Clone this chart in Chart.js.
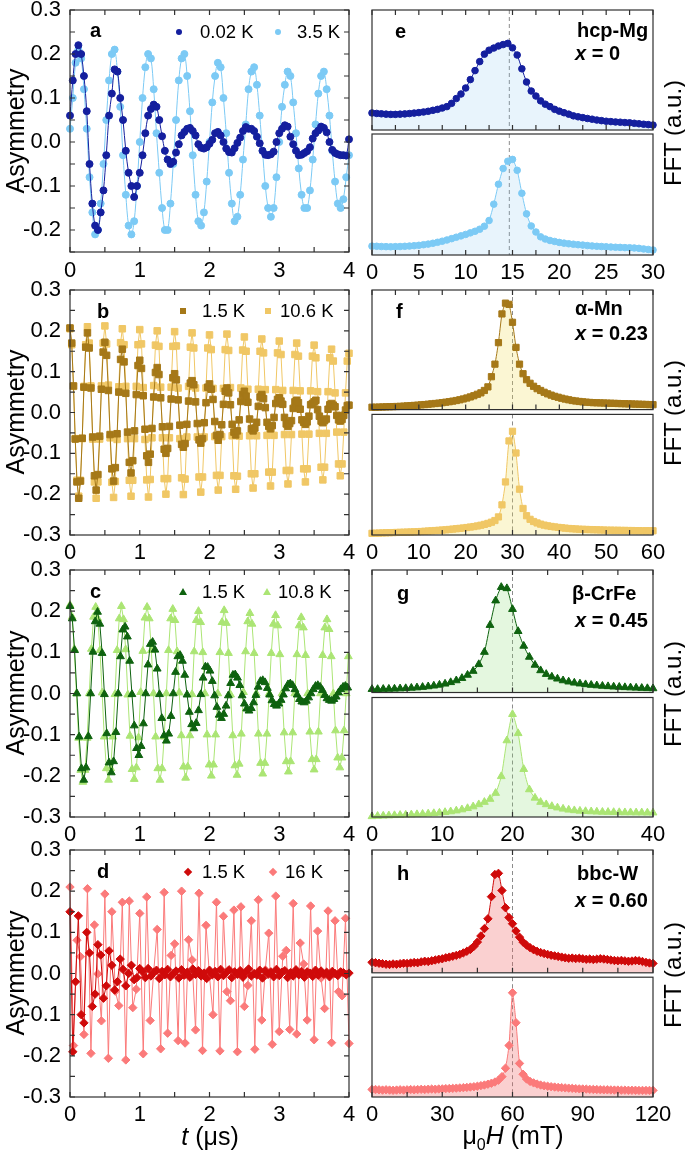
<!DOCTYPE html>
<html>
<head>
<meta charset="utf-8">
<script src="https://cdn.jsdelivr.net/npm/chart.js@4.4.1/dist/chart.umd.min.js"></script>
<style>
  body { margin: 0; background: #fff; width: 685px; height: 1157px; position: relative; overflow: hidden;
         font-family: "Liberation Sans", Arial, Helvetica, sans-serif; }
  .box { position: absolute; }
  .box canvas { display: block; }
  .t { position: absolute; white-space: nowrap; color: #000; line-height: 1; }
  .leg { font-size: 18.5px; }
  .let { font-size: 20px; font-weight: bold; }
  .mat { font-size: 20px; font-weight: bold; }
  .rot { transform: translate(-50%, -50%) rotate(-90deg); }
  .ctr { transform: translate(-50%, -50%); }
  .mk { position: absolute; }
</style>
</head>
<body>

<div class="box" style="left:0;top:0"><canvas id="cA" width="360" height="290"></canvas></div>
<div class="box" style="left:0;top:280px"><canvas id="cB" width="360" height="290"></canvas></div>
<div class="box" style="left:0;top:560px"><canvas id="cC" width="360" height="290"></canvas></div>
<div class="box" style="left:0;top:840px"><canvas id="cD" width="360" height="317"></canvas></div>

<div class="box" style="left:355px;top:0"><canvas id="cE1" width="330" height="135"></canvas></div>
<div class="box" style="left:355px;top:129px"><canvas id="cE2" width="330" height="161"></canvas></div>
<div class="box" style="left:355px;top:280px"><canvas id="cF1" width="330" height="135"></canvas></div>
<div class="box" style="left:355px;top:409px"><canvas id="cF2" width="330" height="161"></canvas></div>
<div class="box" style="left:355px;top:560px"><canvas id="cG1" width="330" height="138"></canvas></div>
<div class="box" style="left:355px;top:692px"><canvas id="cG2" width="330" height="158"></canvas></div>
<div class="box" style="left:355px;top:840px"><canvas id="cH1" width="330" height="138"></canvas></div>
<div class="box" style="left:355px;top:972px"><canvas id="cH2" width="330" height="185"></canvas></div>

<!-- axis titles -->
<div class="t rot" style="left:15px;top:131px;font-size:25px">Asymmetry</div>
<div class="t rot" style="left:15px;top:412px;font-size:25px">Asymmetry</div>
<div class="t rot" style="left:15px;top:693px;font-size:25px">Asymmetry</div>
<div class="t rot" style="left:15px;top:973px;font-size:25px">Asymmetry</div>
<div class="t rot" style="left:673px;top:133px;font-size:24px">FFT (a.u.)</div>
<div class="t rot" style="left:673px;top:413px;font-size:24px">FFT (a.u.)</div>
<div class="t rot" style="left:673px;top:694px;font-size:24px">FFT (a.u.)</div>
<div class="t rot" style="left:673px;top:975px;font-size:24px">FFT (a.u.)</div>
<div class="t ctr" style="left:210px;top:1136px;font-size:25px"><i>t</i> (μs)</div>
<div class="t ctr" style="left:513px;top:1138px;font-size:25px">μ<sub style="font-size:16px">0</sub><i>H</i> (mT)</div>

<!-- panel letters -->
<div class="t let" style="left:90px;top:20px">a</div>
<div class="t let" style="left:97px;top:301px">b</div>
<div class="t let" style="left:90px;top:581px">c</div>
<div class="t let" style="left:97px;top:861px">d</div>
<div class="t let" style="left:395px;top:21px">e</div>
<div class="t let" style="left:396px;top:301px">f</div>
<div class="t let" style="left:397px;top:583px">g</div>
<div class="t let" style="left:397px;top:863px">h</div>

<!-- material labels -->
<div class="t mat" style="left:577px;top:20px">hcp-Mg</div>
<div class="t mat" style="left:575px;top:43px"><i>x</i> = 0</div>
<div class="t mat" style="left:575px;top:298px">α-Mn</div>
<div class="t mat" style="left:575px;top:323px"><i>x</i> = 0.23</div>
<div class="t mat" style="left:572px;top:583px">β-CrFe</div>
<div class="t mat" style="left:575px;top:610px"><i>x</i> = 0.45</div>
<div class="t mat" style="left:577px;top:863px">bbc-W</div>
<div class="t mat" style="left:575px;top:890px"><i>x</i> = 0.60</div>

<!-- legends -->
<span class="mk" style="left:176px;top:29px;width:6px;height:6px;border-radius:50%;background:#141f9e"></span>
<div class="t leg" style="left:200px;top:23px">0.02 K</div>
<span class="mk" style="left:275px;top:29px;width:6px;height:6px;border-radius:50%;background:#7ccaf5"></span>
<div class="t leg" style="left:297px;top:23px">3.5 K</div>

<span class="mk" style="left:180px;top:308px;width:6px;height:6px;background:#a57818"></span>
<div class="t leg" style="left:202px;top:302px">1.5 K</div>
<span class="mk" style="left:265px;top:308px;width:6px;height:6px;background:#f0c765"></span>
<div class="t leg" style="left:280px;top:302px">10.6 K</div>

<span class="mk" style="left:179px;top:588px;width:8px;height:7px;background:#0e620f;clip-path:polygon(50% 0,100% 100%,0 100%)"></span>
<div class="t leg" style="left:202px;top:583px">1.5 K</div>
<span class="mk" style="left:263px;top:588px;width:8px;height:7px;background:#abe574;clip-path:polygon(50% 0,100% 100%,0 100%)"></span>
<div class="t leg" style="left:278px;top:583px">10.8 K</div>

<span class="mk" style="left:185px;top:869px;width:6px;height:6px;background:#cf0a0a;transform:rotate(45deg)"></span>
<div class="t leg" style="left:202px;top:863px">1.5 K</div>
<span class="mk" style="left:270px;top:869px;width:6px;height:6px;background:#fb7a7a;transform:rotate(45deg)"></span>
<div class="t leg" style="left:285px;top:863px">16 K</div>

<script>
// sample grids (evenly binned time / field)
function steps(start, step, count) {
  const out = [];
  for (let i = 0; i < count; i++) out.push(+(start + i * step).toFixed(4));
  return out;
}

// ---- tick labels ----
const timeTicks = [0, 1, 2, 3, 4];
const timeMinor = [0.5, 1.5, 2.5, 3.5];
const asymTicks = [-0.3, -0.2, -0.1, 0, 0.1, 0.2, 0.3];
const asymMinor = [-0.25, -0.15, -0.05, 0.05, 0.15, 0.25];
const fieldTicksE = [0, 5, 10, 15, 20, 25, 30];
const fieldMinorE = [2.5, 7.5, 12.5, 17.5, 22.5, 27.5];
const fieldTicksF = [0, 10, 20, 30, 40, 50, 60];
const fieldMinorF = [5, 15, 25, 35, 45, 55];
const fieldTicksG = [0, 10, 20, 30, 40];
const fieldMinorG = [5, 15, 25, 35];
const fieldTicksH = [0, 30, 60, 90, 120];
const fieldMinorH = [15, 45, 75, 105];
const refFields = [14.66, 30, 20, 60];

// ---- panel a : hcp-Mg ----
const timeA = steps(0, 0.04, 101);
const asymA_002K = [
  0.06, 0.14, 0.20, 0.22, 0.20, 0.15, 0.07, -0.05, -0.14, -0.19,
  -0.20, -0.16, -0.11, -0.03, 0.06, 0.11, 0.165, 0.16, 0.10, 0.05,
  -0.02, -0.07, -0.10, -0.125, -0.10, -0.07, -0.03, 0.02, 0.06, 0.075,
  0.085, 0.08, 0.05, 0.013, -0.02, -0.04, -0.05, -0.045, -0.024, -0.005,
  0.015, 0.023, 0.03, 0.032, 0.025, 0.015, -0.005, -0.013, -0.015, -0.012,
  -0.004, 0.005, 0.02, 0.023, 0.015, 0.0, -0.015, -0.023, -0.024, -0.014,
  -0.002, 0.01, 0.025, 0.034, 0.03, 0.03, 0.025, 0.012, -0.003, -0.02,
  -0.029, -0.03, -0.028, -0.022, 0.0, 0.02, 0.03, 0.038, 0.035, 0.012,
  -0.005, -0.02, -0.03, -0.029, -0.025, -0.021, -0.012, 0.008, 0.02, 0.026,
  0.035, 0.032, 0.022, 0.0, -0.018, -0.025, -0.028, -0.03, -0.03, -0.031,
  0.006
];
const asymA_35K = [
  0.03, 0.10, 0.18, 0.21, 0.19, 0.12, 0.03, -0.08, -0.16, -0.21, -0.20, -0.14, -0.05,
  0.05, 0.14, 0.20, 0.21, 0.16, 0.08, -0.03, -0.12, -0.19, -0.21, -0.18, -0.10,
  0.00, 0.10, 0.17, 0.20, 0.19, 0.12, 0.02, -0.07, -0.15, -0.20, -0.20, -0.14, -0.05,
  0.05, 0.14, 0.19, 0.20, 0.15, 0.07, -0.03, -0.12, -0.18, -0.19, -0.16, -0.09,
  0.00, 0.09, 0.15, 0.18, 0.17, 0.10, 0.02, -0.07, -0.14, -0.18, -0.17, -0.12, -0.04,
  0.04, 0.12, 0.16, 0.17, 0.13, 0.06, -0.02, -0.10, -0.15, -0.17, -0.15, -0.08,
  0.00, 0.08, 0.13, 0.16, 0.15, 0.09, 0.02, -0.06, -0.12, -0.15, -0.15, -0.11, -0.04,
  0.04, 0.11, 0.15, 0.16, 0.12, 0.06, -0.02, -0.09, -0.14, -0.15, -0.13, -0.08,
  -0.03
];

// ---- panel b : alpha-Mn ----
const timeB = steps(0, 0.025, 161);
const asymB_15K = [
  0.207, 0.170, 0.065, -0.065, -0.170, -0.210, -0.168, -0.063, 0.062, 0.160,
  0.195, 0.158, 0.060, -0.060, -0.155, -0.190, -0.152, -0.058, 0.057, 0.148,
  0.172, 0.140, 0.054, -0.054, -0.138, -0.168, -0.135, -0.052, 0.050, 0.130,
  0.155, 0.124, 0.047, -0.048, -0.122, -0.148, -0.118, -0.045, 0.044, 0.115,
  0.128, 0.108, 0.041, -0.041, -0.106, -0.122, -0.102, -0.039, 0.038, 0.098,
  0.110, 0.093, 0.036, -0.035, -0.090, -0.100, -0.088, -0.034, 0.033, 0.085,
  0.095, 0.080, 0.031, -0.031, -0.078, -0.085, -0.076, -0.029, 0.028, 0.072,
  0.078, 0.068, 0.026, -0.027, -0.067, -0.075, -0.064, -0.025, 0.024, 0.062,
  0.070, 0.057, 0.032, -0.022, -0.056, -0.068, -0.054, -0.030, 0.020, 0.052,
  0.060, 0.048, 0.019, -0.029, -0.048, -0.055, -0.045, -0.018, 0.027, 0.044,
  0.052, 0.040, 0.025, -0.016, -0.040, -0.045, -0.038, -0.024, 0.015, 0.038,
  0.044, 0.034, 0.012, -0.024, -0.034, -0.040, -0.032, -0.012, 0.022, 0.032,
  0.036, 0.028, 0.020, -0.012, -0.028, -0.034, -0.027, -0.020, 0.010, 0.026,
  0.030, 0.024, 0.008, -0.018, -0.024, -0.029, -0.023, -0.009, 0.019, 0.022,
  0.026, 0.030, 0.007, -0.009, -0.021, -0.025, -0.020, -0.016, 0.008, 0.019,
  0.022, 0.018, 0.014, -0.007, -0.018, -0.021, -0.017, -0.007, 0.006, 0.017,
  0.018
];
const asymB_106K = [
  0.205, 0.166, 0.064, -0.064, -0.166, -0.205, -0.166, -0.064, 0.064, 0.166,
  0.210, 0.170, 0.065, -0.065, -0.170, -0.210, -0.170, -0.065, 0.065, 0.170,
  0.212, 0.168, 0.067, -0.062, -0.171, -0.208, -0.169, -0.066, 0.063, 0.171,
  0.205, 0.166, 0.064, -0.064, -0.166, -0.205, -0.166, -0.064, 0.064, 0.166,
  0.203, 0.168, 0.061, -0.066, -0.165, -0.207, -0.164, -0.062, 0.066, 0.165,
  0.200, 0.162, 0.062, -0.062, -0.162, -0.200, -0.162, -0.062, 0.062, 0.162,
  0.198, 0.163, 0.060, -0.064, -0.160, -0.201, -0.163, -0.060, 0.064, 0.160,
  0.195, 0.158, 0.060, -0.060, -0.158, -0.195, -0.158, -0.060, 0.060, 0.158,
  0.190, 0.154, 0.059, -0.059, -0.154, -0.190, -0.154, -0.059, 0.059, 0.154,
  0.192, 0.152, 0.061, -0.057, -0.155, -0.188, -0.156, -0.058, 0.060, 0.153,
  0.185, 0.150, 0.057, -0.057, -0.150, -0.185, -0.150, -0.057, 0.057, 0.150,
  0.180, 0.146, 0.056, -0.056, -0.146, -0.180, -0.146, -0.056, 0.056, 0.146,
  0.175, 0.142, 0.054, -0.054, -0.142, -0.175, -0.142, -0.054, 0.054, 0.142,
  0.170, 0.138, 0.053, -0.053, -0.138, -0.170, -0.138, -0.053, 0.053, 0.138,
  0.165, 0.134, 0.051, -0.051, -0.134, -0.165, -0.134, -0.051, 0.051, 0.134,
  0.155, 0.126, 0.048, -0.048, -0.126, -0.155, -0.126, -0.048, 0.048, 0.126,
  0.145
];

// ---- panel c : beta-CrFe ----
const timeC_15K = steps(0, 0.0329, 122);
const asymC_15K = [
  0.212, 0.182, 0.105, 0.0, -0.105, -0.182, -0.210, -0.180, -0.104, 0.0, 0.101, 0.175,
  0.198, 0.169, 0.098, -0.002, -0.097, -0.168, -0.192, -0.165, -0.094, 0.0, 0.090, 0.155,
  0.162, 0.138, 0.079, -0.002, -0.078, -0.133, -0.150, -0.128, -0.073, 0.0, 0.070, 0.120,
  0.125, 0.106, 0.060, -0.002, -0.060, -0.102, -0.115, -0.098, -0.055, 0.0, 0.052, 0.090,
  0.093, 0.079, 0.045, -0.003, -0.045, -0.075, -0.085, -0.072, -0.041, -0.002, 0.038, 0.065,
  0.064, 0.055, 0.030, -0.005, -0.033, -0.052, -0.060, -0.050, -0.030, -0.005, 0.025, 0.045,
  0.046, 0.038, 0.020, -0.005, -0.025, -0.037, -0.042, -0.036, -0.022, -0.004, 0.016, 0.030,
  0.032, 0.027, 0.013, -0.003, -0.017, -0.026, -0.030, -0.025, -0.016, -0.003, 0.012, 0.022,
  0.024, 0.020, 0.010, -0.003, -0.014, -0.020, -0.022, -0.018, -0.010, 0.000, 0.010, 0.018,
  0.020, 0.016, 0.008, -0.004, -0.012, -0.016, -0.018, -0.014, -0.008, 0.002, 0.010, 0.016,
  0.018, 0.014
];
const timeC_108K = steps(0, 0.0307, 131);
const asymC_108K = [
  0.215, 0.186, 0.108, 0.0, -0.108, -0.186, -0.215, -0.186, -0.108, 0.0, 0.108, 0.186,
  0.210, 0.182, 0.105, 0.002, -0.105, -0.182, -0.210, -0.182, -0.105, -0.002, 0.105, 0.182,
  0.212, 0.180, 0.107, -0.003, -0.103, -0.184, -0.208, -0.180, -0.107, 0.003, 0.103, 0.184,
  0.210, 0.182, 0.105, 0.0, -0.105, -0.182, -0.210, -0.182, -0.105, 0.0, 0.105, 0.182,
  0.205, 0.178, 0.102, 0.002, -0.102, -0.178, -0.205, -0.178, -0.102, -0.002, 0.102, 0.178,
  0.200, 0.173, 0.100, 0.0, -0.100, -0.173, -0.200, -0.173, -0.100, 0.0, 0.100, 0.173,
  0.202, 0.171, 0.098, -0.003, -0.102, -0.175, -0.198, -0.171, -0.098, 0.003, 0.102, 0.175,
  0.195, 0.169, 0.098, 0.0, -0.098, -0.169, -0.195, -0.169, -0.098, 0.0, 0.098, 0.169,
  0.190, 0.165, 0.095, 0.0, -0.095, -0.165, -0.190, -0.165, -0.095, 0.0, 0.095, 0.165,
  0.185, 0.160, 0.093, 0.0, -0.093, -0.160, -0.185, -0.160, -0.093, 0.0, 0.093, 0.160,
  0.180, 0.156, 0.090, 0.0, -0.090, -0.156, -0.180, -0.156, -0.090, 0.0, 0.090
];

// ---- panel d : bbc-W ----
const timeD_15K = steps(0, 0.04, 101);
const asymD_15K = [
  0.15, -0.19, -0.02, 0.14, -0.10, -0.12, 0.10, 0.05, -0.08, -0.05,
  0.07, 0.045, -0.06, -0.03, 0.055, 0.02, -0.04, -0.02, 0.035, 0.01,
  -0.03, 0.0, 0.02, -0.015, -0.01, 0.012,
  0.004, -0.010, 0.012, -0.006, 0.002, 0.008, -0.012, 0.005, -0.003, 0.010,
  -0.008, 0.000, 0.006, -0.011, 0.009, -0.004, 0.003, -0.009, 0.011, -0.002,
  0.007, -0.006, 0.001, -0.012, 0.008, -0.003, 0.005, -0.008, 0.010, -0.005,
  0.002, 0.009, -0.010, 0.004, -0.002, 0.007, -0.009, 0.003, 0.011, -0.006,
  0.000, -0.004, 0.008, -0.011, 0.006, -0.002, 0.004, -0.008, 0.010, -0.005,
  0.003, 0.007, -0.010, 0.002, -0.006, 0.009, -0.003, 0.005, -0.009, 0.004,
  0.001, -0.007, 0.008, -0.004, 0.006, -0.002, 0.003, -0.008, 0.005, 0.000,
  -0.005, 0.004, 0.002, -0.003, 0.001
];
const timeD_16K = steps(0, 0.05, 81);
const asymD_16K = [
  0.210, -0.175, 0.081, 0.041, -0.148, 0.206, -0.194, 0.118, -0.001, -0.115,
  0.193, -0.206, 0.150, -0.043, -0.078, 0.173, -0.210, 0.176, -0.083, -0.038,
  0.146, -0.195, 0.186, -0.114, 0.004, 0.107, -0.183, 0.197, -0.145, 0.044,
  0.072, -0.163, 0.200, -0.169, 0.082, 0.033, -0.137, 0.195, -0.187, 0.117,
  -0.007, -0.100, 0.173, -0.188, 0.139, -0.044, -0.066, 0.154, -0.190, 0.162,
  -0.080, -0.029, 0.128, -0.184, 0.179, -0.113, 0.009, 0.098, -0.172, 0.188,
  -0.141, 0.042, 0.056, -0.136, 0.170, -0.147, 0.074, 0.023, -0.113, 0.164,
  -0.161, 0.103, -0.011, -0.085, 0.152, -0.168, 0.128, -0.044, -0.054, 0.134,
  -0.170
];

// ---- FFT panels (normalised to each sub-panel height) ----
const fieldE = steps(0, 0.5, 61);
const fftE_002K = [
  0.142, 0.138, 0.135, 0.132, 0.130, 0.130, 0.132, 0.134, 0.137, 0.141,
  0.145, 0.150, 0.156, 0.164, 0.172, 0.183, 0.195, 0.222, 0.262, 0.300,
  0.350, 0.420, 0.495, 0.570, 0.632, 0.665, 0.683, 0.700, 0.712, 0.722,
  0.685, 0.625, 0.510, 0.400, 0.325, 0.283, 0.243, 0.215, 0.195, 0.172,
  0.157, 0.144, 0.132, 0.118, 0.110, 0.103, 0.096, 0.090, 0.083, 0.078,
  0.073, 0.070, 0.067, 0.065, 0.062, 0.060, 0.056, 0.052, 0.048, 0.045,
  0.041
];
const fftE_35K = [
  0.073, 0.072, 0.070, 0.069, 0.068, 0.069, 0.070, 0.072, 0.074, 0.077,
  0.080, 0.085, 0.090, 0.097, 0.105, 0.114, 0.124, 0.135, 0.147, 0.158,
  0.170, 0.183, 0.196, 0.213, 0.238, 0.285, 0.420, 0.585, 0.715, 0.775,
  0.790, 0.700, 0.510, 0.340, 0.240, 0.190, 0.150, 0.132, 0.120, 0.112,
  0.104, 0.098, 0.093, 0.089, 0.085, 0.082, 0.078, 0.075, 0.072, 0.070,
  0.068, 0.066, 0.064, 0.063, 0.061, 0.060, 0.058, 0.055, 0.050, 0.046,
  0.041
];
const fieldF = steps(0, 0.75, 81);
const fftF_15K = [
  0.020, 0.020, 0.021, 0.022, 0.023, 0.024, 0.025, 0.026, 0.027, 0.029,
  0.031, 0.033, 0.035, 0.037, 0.040, 0.042, 0.045, 0.048, 0.051, 0.054,
  0.058, 0.062, 0.066, 0.071, 0.076, 0.082, 0.089, 0.097, 0.106, 0.116,
  0.128, 0.140, 0.160, 0.190, 0.275, 0.380, 0.560, 0.800, 0.890, 0.880,
  0.730, 0.520, 0.380, 0.300, 0.250, 0.220, 0.195, 0.175, 0.160, 0.145,
  0.132, 0.121, 0.111, 0.103, 0.095, 0.088, 0.082, 0.076, 0.072, 0.068,
  0.065, 0.062, 0.060, 0.058, 0.057, 0.056, 0.055, 0.054, 0.053, 0.052,
  0.051, 0.050, 0.049, 0.048, 0.047, 0.046, 0.045, 0.044, 0.043, 0.042,
  0.041
];
const fftF_106K = [
  0.014, 0.015, 0.016, 0.017, 0.018, 0.019, 0.020, 0.021, 0.022, 0.023,
  0.024, 0.025, 0.026, 0.027, 0.029, 0.031, 0.033, 0.035, 0.037, 0.039,
  0.041, 0.043, 0.046, 0.049, 0.052, 0.055, 0.058, 0.062, 0.066, 0.070,
  0.075, 0.081, 0.088, 0.096, 0.106, 0.120, 0.150, 0.250, 0.440, 0.780,
  0.860, 0.680, 0.380, 0.220, 0.160, 0.130, 0.112, 0.100, 0.090, 0.082,
  0.076, 0.071, 0.067, 0.063, 0.060, 0.057, 0.054, 0.052, 0.050, 0.048,
  0.047, 0.046, 0.045, 0.044, 0.043, 0.042, 0.041, 0.040, 0.040, 0.039,
  0.039, 0.038, 0.038, 0.037, 0.037, 0.036, 0.036, 0.035, 0.035, 0.035,
  0.035
];
const fieldG = steps(0, 0.8, 51);
const fftG_15K = [
  0.027, 0.027, 0.028, 0.029, 0.030, 0.032, 0.034, 0.037, 0.040, 0.044,
  0.049, 0.055, 0.062, 0.071, 0.083, 0.098, 0.117, 0.143, 0.175, 0.230,
  0.330, 0.550, 0.750, 0.860, 0.850, 0.680, 0.500, 0.380, 0.290, 0.225,
  0.180, 0.150, 0.128, 0.112, 0.098, 0.088, 0.079, 0.072, 0.066, 0.061,
  0.057, 0.053, 0.050, 0.047, 0.045, 0.042, 0.040, 0.038, 0.036, 0.034,
  0.033
];
const fftG_108K = [
  0.005, 0.008, 0.010, 0.012, 0.014, 0.016, 0.018, 0.020, 0.022, 0.025,
  0.028, 0.031, 0.035, 0.040, 0.046, 0.053, 0.062, 0.073, 0.087, 0.105,
  0.125, 0.150, 0.200, 0.340, 0.640, 0.860, 0.700, 0.400, 0.230, 0.160,
  0.125, 0.105, 0.090, 0.078, 0.068, 0.060, 0.055, 0.051, 0.048, 0.046,
  0.044, 0.042, 0.041, 0.040, 0.039, 0.038, 0.038, 0.037, 0.037, 0.036,
  0.036
];
const fieldH = steps(0, 1.5, 81);
const fftH_15K = [
  0.085, 0.082, 0.078, 0.074, 0.070, 0.068, 0.072, 0.070, 0.074, 0.078,
  0.076, 0.080, 0.084, 0.082, 0.089, 0.094, 0.092, 0.098, 0.104, 0.110,
  0.114, 0.122, 0.128, 0.135, 0.142, 0.150, 0.162, 0.175, 0.190, 0.215,
  0.250, 0.300, 0.360, 0.440, 0.620, 0.800, 0.810, 0.670, 0.530, 0.450,
  0.400, 0.340, 0.290, 0.250, 0.225, 0.205, 0.188, 0.175, 0.165, 0.157,
  0.150, 0.143, 0.138, 0.133, 0.128, 0.122, 0.118, 0.120, 0.116, 0.118,
  0.114, 0.110, 0.112, 0.108, 0.111, 0.115, 0.112, 0.108, 0.104, 0.100,
  0.098, 0.101, 0.097, 0.094, 0.096, 0.100, 0.098, 0.092, 0.085, 0.080,
  0.076
];
const fftH_16K = [
  0.063, 0.062, 0.060, 0.058, 0.060, 0.058, 0.056, 0.058, 0.060, 0.058,
  0.060, 0.062, 0.060, 0.062, 0.064, 0.062, 0.065, 0.066, 0.065, 0.067,
  0.068, 0.070, 0.071, 0.072, 0.074, 0.076, 0.078, 0.080, 0.083, 0.086,
  0.090, 0.095, 0.100, 0.107, 0.115, 0.125, 0.140, 0.170, 0.240, 0.430,
  0.870, 0.620, 0.280, 0.190, 0.150, 0.130, 0.118, 0.108, 0.100, 0.094,
  0.090, 0.086, 0.083, 0.080, 0.078, 0.076, 0.074, 0.072, 0.070, 0.068,
  0.067, 0.066, 0.064, 0.063, 0.062, 0.061, 0.060, 0.060, 0.059, 0.058,
  0.058, 0.057, 0.057, 0.056, 0.056, 0.056, 0.055, 0.055, 0.055, 0.055,
  0.055
];

// colours
const col = {
  aDark: '#141f9e', aLight: '#7ccaf5', aFill: 'rgba(120,190,240,0.17)',
  bDark: '#a57818', bLight: '#f0c765', bFill: 'rgba(240,220,80,0.25)',
  cDark: '#0e620f', cLight: '#abe574', cFill: 'rgba(130,220,110,0.22)',
  dDark: '#cf0a0a', dLight: '#fb7a7a', dFill: 'rgba(240,100,100,0.30)'
};

const FONT = '"Liberation Sans", Arial, Helvetica, sans-serif';
Chart.defaults.font.family = FONT;
Chart.defaults.color = '#000';
const TICK = 5;

// frame + inward ticks on the sides, dashed reference line
function framePlugin(cfg) {
  return {
    id: 'frame',
    beforeDatasetsDraw(chart) {
      if (cfg.ref == null) return;
      const { ctx, chartArea: a } = chart;
      const px = chart.scales.x.getPixelForValue(cfg.ref);
      ctx.save();
      ctx.strokeStyle = '#8c8c8c';
      ctx.lineWidth = 1;
      ctx.setLineDash([4, 3]);
      ctx.beginPath();
      ctx.moveTo(px, a.top);
      ctx.lineTo(px, a.bottom);
      ctx.stroke();
      ctx.restore();
    },
    afterDraw(chart) {
      const { ctx, chartArea: a, scales } = chart;
      ctx.save();
      ctx.strokeStyle = '#303030';
      ctx.lineWidth = 1.2;
      ctx.strokeRect(a.left, a.top, a.right - a.left, a.bottom - a.top);
      ctx.beginPath();
      (cfg.xTicks || []).forEach(v => {
        const p = scales.x.getPixelForValue(v);
        if (p < a.left - 0.5 || p > a.right + 0.5) return;
        if (cfg.bottom) { ctx.moveTo(p, a.bottom); ctx.lineTo(p, a.bottom - TICK); }
        if (cfg.top) { ctx.moveTo(p, a.top); ctx.lineTo(p, a.top + TICK); }
      });
      (cfg.yTicks || []).forEach(v => {
        const p = scales.y.getPixelForValue(v);
        if (p < a.top - 0.5 || p > a.bottom + 0.5) return;
        ctx.moveTo(a.left, p); ctx.lineTo(a.left + TICK, p);
        ctx.moveTo(a.right, p); ctx.lineTo(a.right - TICK, p);
      });
      ctx.stroke();
      ctx.restore();
    }
  };
}

function fixSize(size, horizontal) {
  return s => {
    if (horizontal) s.height = size; else s.width = size;
    s.paddingLeft = 0; s.paddingRight = 0; s.paddingTop = 0; s.paddingBottom = 0;
  };
}

function series(xs, ys, color, style, radius, extra) {
  return Object.assign({
    data: ys.map((y, i) => ({ x: xs[i], y: y })),
    borderColor: color, backgroundColor: color,
    pointBackgroundColor: color, pointBorderColor: color,
    pointStyle: style, pointRadius: radius, pointBorderWidth: 1,
    borderWidth: 1, tension: 0, fill: false, clip: false
  }, extra || {});
}

// time-domain panels
function asymPanel(id, sets, yMin, xAxisH, labelPad) {
  return new Chart(document.getElementById(id), {
    type: 'line',
    data: { datasets: sets },
    options: {
      responsive: false, animation: false, events: [],
      layout: { padding: { top: 10, right: 11, left: 0, bottom: 0 } },
      plugins: { legend: { display: false }, tooltip: { enabled: false } },
      scales: {
        x: {
          type: 'linear', min: 0, max: 4,
          grid: { display: false, drawTicks: false }, border: { display: false },
          afterBuildTicks: s => { s.ticks = timeTicks.map(v => ({ value: v })); },
          afterFit: fixSize(xAxisH, true),
          ticks: { font: { size: 22 }, color: '#000', padding: labelPad, maxRotation: 0, autoSkip: false,
                   callback: v => String(v) }
        },
        y: {
          type: 'linear', min: yMin, max: 0.3,
          grid: { display: false, drawTicks: false }, border: { display: false },
          afterBuildTicks: s => {
            s.ticks = asymTicks.filter(v => v >= s.min - 1e-9 && v <= s.max + 1e-9).map(v => ({ value: v }));
          },
          afterFit: fixSize(70, false),
          ticks: { font: { size: 22 }, color: '#000', padding: 9, autoSkip: false, callback: v => v.toFixed(1) }
        }
      }
    },
    plugins: [framePlugin({ xTicks: timeTicks.concat(timeMinor), yTicks: asymTicks.concat(asymMinor), top: true, bottom: true })]
  });
}

// FFT sub-panels
function fftPanel(id, xs, ys, color, fillColor, style, radius, xMax, ticks, minor, ref, opt) {
  const withLabels = !!opt.labels;
  return new Chart(document.getElementById(id), {
    type: 'line',
    data: { datasets: [series(xs, ys, color, style, radius, { backgroundColor: fillColor, fill: 'start', tension: 0.2 })] },
    options: {
      responsive: false, animation: false, events: [],
      layout: { padding: { top: opt.padTop, bottom: opt.padBottom, left: 17, right: 32 } },
      plugins: { legend: { display: false }, tooltip: { enabled: false } },
      scales: {
        x: {
          type: 'linear', min: 0, max: xMax, display: withLabels,
          grid: { display: false, drawTicks: false }, border: { display: false },
          afterBuildTicks: s => { s.ticks = ticks.map(v => ({ value: v })); },
          afterFit: fixSize(opt.xAxisH || 0, true),
          ticks: { font: { size: 22 }, color: '#000', padding: 5, maxRotation: 0, autoSkip: false,
                   callback: v => String(v) }
        },
        y: { type: 'linear', min: 0, max: 1, display: false }
      }
    },
    plugins: [framePlugin({ xTicks: ticks.concat(minor), ref: ref, top: opt.topTicks, bottom: true })]
  });
}

// left column
asymPanel('cA', [
  series(timeA, asymA_002K, col.aDark, 'circle', 3.5, { tension: 0.35 }),
  series(timeA, asymA_35K, col.aLight, 'circle', 3.5, { tension: 0.35 })
], -0.25, 38, 6);
asymPanel('cB', [
  series(timeB, asymB_15K, col.bDark, 'rect', 4.6),
  series(timeB, asymB_106K, col.bLight, 'rect', 4.6)
], -0.3, 35, 5);
asymPanel('cC', [
  series(timeC_15K, asymC_15K, col.cDark, 'triangle', 4.5),
  series(timeC_108K, asymC_108K, col.cLight, 'triangle', 4.5)
], -0.3, 33, 5);
asymPanel('cD', [
  series(timeD_15K, asymD_15K, col.dDark, 'rectRot', 4.2),
  series(timeD_16K, asymD_16K, col.dLight, 'rectRot', 4.2)
], -0.3, 60, 5);

// right column
fftPanel('cE1', fieldE, fftE_002K, col.aDark, col.aFill, 'circle', 3.3, 30, fieldTicksE, fieldMinorE, refFields[0], { padTop: 10, padBottom: 3, topTicks: true });
fftPanel('cE2', fieldE, fftE_35K, col.aLight, col.aFill, 'circle', 3.3, 30, fieldTicksE, fieldMinorE, refFields[0], { padTop: 3, padBottom: 0, labels: true, xAxisH: 35 });
fftPanel('cF1', fieldF, fftF_15K, col.bDark, col.bFill, 'rect', 4.4, 60, fieldTicksF, fieldMinorF, refFields[1], { padTop: 10, padBottom: 3, topTicks: true });
fftPanel('cF2', fieldF, fftF_106K, col.bLight, col.bFill, 'rect', 4.4, 60, fieldTicksF, fieldMinorF, refFields[1], { padTop: 3, padBottom: 0, labels: true, xAxisH: 35 });
fftPanel('cG1', fieldG, fftG_15K, col.cDark, col.cFill, 'triangle', 4.5, 40, fieldTicksG, fieldMinorG, refFields[2], { padTop: 10, padBottom: 3, topTicks: true });
fftPanel('cG2', fieldG, fftG_108K, col.cLight, col.cFill, 'triangle', 4.5, 40, fieldTicksG, fieldMinorG, refFields[2], { padTop: 3, padBottom: 0, labels: true, xAxisH: 33 });
fftPanel('cH1', fieldH, fftH_15K, col.dDark, col.dFill, 'rectRot', 4.2, 120, fieldTicksH, fieldMinorH, refFields[3], { padTop: 10, padBottom: 3, topTicks: true });
fftPanel('cH2', fieldH, fftH_16K, col.dLight, col.dFill, 'rectRot', 4.2, 120, fieldTicksH, fieldMinorH, refFields[3], { padTop: 3, padBottom: 0, labels: true, xAxisH: 60 });
</script>
</body>
</html>
